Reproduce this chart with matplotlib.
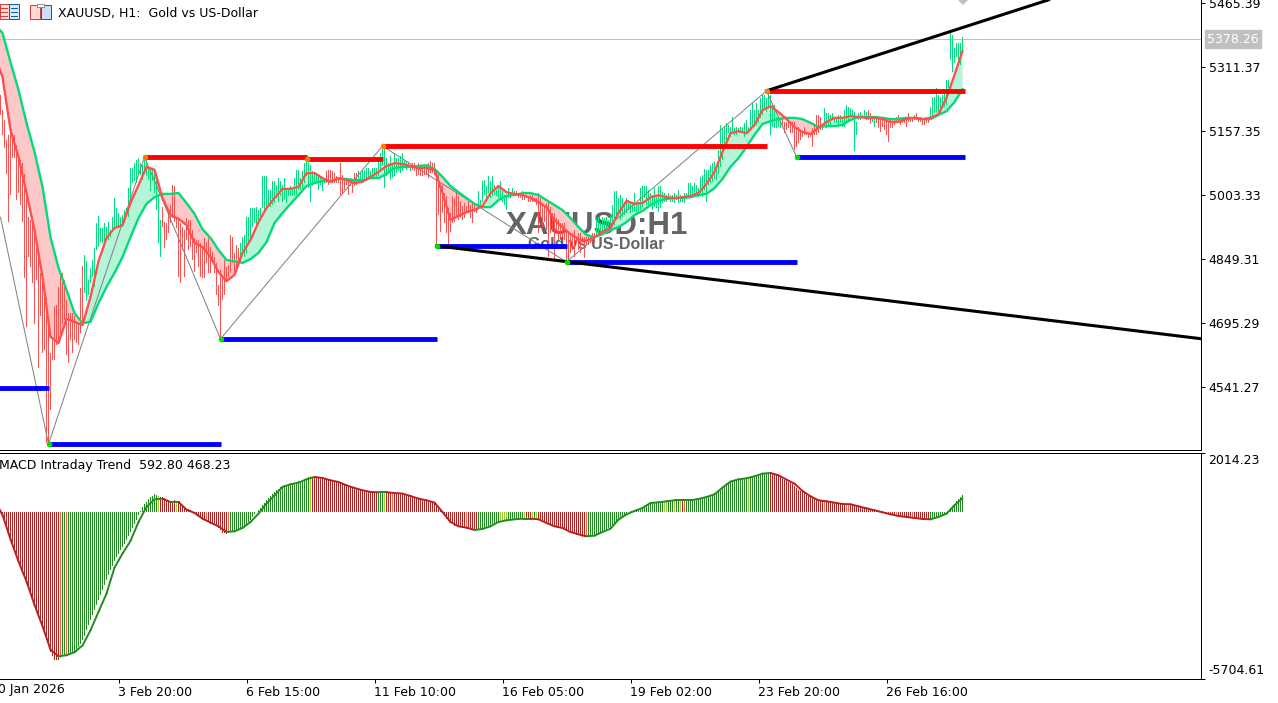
import numpy as np
import matplotlib
matplotlib.use("Agg")
import matplotlib.pyplot as plt
from matplotlib.patches import Rectangle
from matplotlib.transforms import blended_transform_factory

# H1 bars, one per 2 px on the chart
bar_high = [
    5244,5208,5184,5136,5148,5152,5148,5148,5124,5096,5088,5080,5055,5015,4951,4943,4935,4919,4879,4863,
    4815,4799,4775,4759,4702,4622,4662,4735,4739,4783,4819,4815,4799,4751,4719,4719,4719,4711,4699,4694,
    4779,4832,4859,4845,4799,4827,4847,4875,4935,4953,4923,4923,4935,4927,4939,4919,4951,4995,4971,4959,
    4951,4955,4967,4971,5019,
    5068,5068,5080,5088,5092,5080,5076,5100,5088,5068,5068,5064,5064,5048,5000,4943,4975,4939,4935,4967,
    4980,5028,5024,4951,4943,4935,4927,4919,4947,4943,4943,4919,4899,4895,4895,4887,4879,4899,4891,4899,
    4879,4867,4855,4839,4787,4823,4807,4847,4831,4835,4907,4903,4863,4883,4875,4887,4903,4907,4951,4951,
    4971,4971,4971,4975,4967,4971,5048,5048,5048,5016,5016,5036,5036,5028,5044,5036,5028,5044,5016,5016,
    5024,5020,5044,5064,5064,5044,5060,5080,5096,5096,5076,5060,5056,5056,5048,5044,5040,5040,5060,5064,
    5064,5060,5056,5048,5044,5080,5052,5044,5044,5040,5044,5036,5056,5056,5060,5056,5064,5064,5068,5068,
    5060,5068,5068,5068,5088,5104,5116,5116,5092,5080,
    5096,5080,5104,5092,5092,5096,5104,5088,5084,5080,5076,5080,5080,5076,5080,5068,5076,5072,5072,5080,
    5084,5080,5080,5064,5056,5028,5028,5008,5000,4972,4960,5000,4996,5012,5000,4988,4976,4984,4976,4988,
    4980,4984,4980,4972,5012,4992,5036,5040,5024,5048,5036,5048,5028,5016,5028,5036,5012,5003,5003,5020,
    5008,5020,5012,5012,5008,5008,5012,5003,5003,5000,5003,5003,4996,4996,5008,4996,4980,4980,4984,4987,
    4975,4960,4960,4947,4943,4935,4935,4935,4915,4915,4911,4911,4919,4903,4911,4911,4903,4903,4903,4903,
    4907,4911,4911,4947,4951,4935,4951,4947,4951,4943,4955,4980,5012,5012,4996,5003,4996,4987,4996,4992,
    4987,4987,5008,4980,4987,
    5020,5024,5024,5024,5015,5007,5003,5020,4999,5024,5024,5011,5007,5003,5007,5003,5003,5007,5003,5015,
    5003,4999,5007,5007,5031,5031,5024,5031,5027,5020,5047,5051,5067,5063,5063,5076,5080,5084,5063,5112,
    5172,5164,5168,5176,5172,5168,5192,5164,5168,5164,5168,5168,5176,5184,5168,5208,5224,5208,5224,5208,
    5236,5244,5244,5236,5248,5244,5220,5220,5192,5192,5188,5188,5180,5180,5184,5176,5180,5180,5168,5168,
    5160,5156,5168,5156,5152,5152,5164,5172,5196,5196,5192,5172,5212,5200,5200,5196,5200,5192,5192,5196,
    5196,5192,5208,5220,5216,5212,5208,5204,5180,5200,5204,5196,5208,5204,5208,5200,5192,5192,5192,5192,
    5184,5184,5188,5184,5180,5188,5180,5184,5192,5196,5192,5188,5192,5188,5200,5192,5192,5196,5200,5192,
    5192,5188,5188,5188,5192,5216,5240,5240,5260,5244,5240,5244,5252,5280,5280,5392,5388,5356,5368,5368,
    5368,5384,
]
bar_low = [
    5196,5148,5116,5055,4939,5003,5092,5092,4991,5007,4979,4939,4803,4686,4855,4831,4791,4694,4799,4586,
    4711,4622,4630,4406,4404,4486,4606,4606,4642,4650,4662,4694,4702,4618,4598,4654,4622,4654,4646,4642,
    4670,4699,4767,4747,4763,4791,4807,4783,4871,4879,4891,4887,4879,4895,4895,4903,4919,4927,4923,4923,
    4927,4927,4935,4951,4951,
    4987,5032,5036,5032,5056,5052,5040,5064,5048,5040,5012,5036,5008,4968,4887,4855,4927,4875,4895,4911,
    4935,4947,4939,4923,4807,4791,4871,4807,4895,4871,4879,4847,4819,4863,4831,4807,4803,4803,4839,4815,
    4815,4839,4815,4763,4735,4656,4751,4763,4799,4807,4815,4839,4815,4819,4831,4839,4863,4855,4863,4887,
    4895,4927,4935,4923,4935,4943,4971,4959,4971,4975,4975,4980,4984,4996,4987,5000,4987,4992,4984,5000,
    5000,5000,5000,5004,5016,5016,5016,5032,5048,5020,4987,5024,5032,5032,5016,5028,5012,5032,5032,5028,
    5040,5032,5032,5032,5032,5004,5008,5016,5028,5004,5024,5008,5024,5028,5040,5032,5036,5040,5036,5044,
    5044,5044,5044,5044,5048,5060,5072,5020,5048,5056,
    5040,5044,5048,5056,5060,5056,5060,5068,5064,5068,5060,5064,5060,5048,5052,5048,5048,5052,5052,5044,
    5056,5056,5052,4881,4955,4915,4960,4935,4911,4883,4915,4935,4939,4951,4943,4947,4943,4947,4960,4960,
    4947,4935,4963,4960,4980,4975,4987,5003,4992,5008,4996,5000,5003,5000,4996,4996,4987,4980,4967,4996,
    4996,5000,5003,5000,4996,4996,4992,4992,4996,4987,4987,4987,4987,4980,4911,4951,4927,4939,4919,4855,
    4911,4919,4847,4911,4895,4895,4903,4895,4847,4847,4863,4871,4855,4887,4871,4863,4887,4851,4883,4883,
    4887,4895,4887,4903,4903,4911,4911,4919,4919,4919,4923,4927,4931,4947,4960,4943,4951,4955,4960,4967,
    4960,4963,4963,4955,4963,
    4967,4975,4995,4979,4975,4979,4967,4975,4971,4963,4971,4983,4987,4987,4991,4987,4987,4983,4991,4983,
    4987,4987,4983,4995,4999,4995,4999,4999,5003,4999,5007,4999,5015,4987,5027,5031,5035,5043,5039,5055,
    5071,5088,5116,5128,5152,5144,5152,5148,5148,5152,5152,5152,5144,5152,5152,5160,5168,5168,5172,5176,
    5188,5196,5212,5204,5212,5148,5168,5164,5164,5168,5164,5168,5152,5160,5164,5152,5152,5112,5120,5128,
    5136,5144,5148,5148,5140,5144,5120,5148,5148,5152,5160,5160,5168,5164,5168,5172,5184,5176,5176,5172,
    5176,5168,5168,5180,5184,5192,5192,5108,5148,5184,5184,5188,5192,5184,5184,5176,5180,5168,5176,5164,
    5156,5168,5160,5148,5132,5164,5164,5172,5176,5180,5172,5176,5176,5168,5180,5180,5180,5184,5184,5180,
    5180,5172,5172,5176,5176,5192,5192,5200,5200,5204,5200,5212,5216,5220,5260,5328,5300,5320,5336,5316,
    5316,5344,
]
bar_red_runs = [(0, 41), (81, 119), (163, 178), (206, 238), (258, 297),
                (391, 410), (434, 435), (438, 464)]

# moving averages, read every 4 bars
line_idx = list(range(-3, 482, 4))
fast_ma = [
    5340,5287,5160,5095,5008,4919,4806,4662,4647,4705,4698,4690,4758,4844,4900,4924,4931,4984,
    5027,5071,5064,4996,4955,4946,4931,4888,4878,4854,4818,4796,4811,4864,4895,4938,4972,4996,
    5018,5018,5023,5056,5056,5044,5035,5044,5039,5032,5035,5047,5059,5073,
    5080,5078,5073,5068,5068,5064,5008,4943,4953,4962,4967,4977,5008,5025,5010,5006,5003,4996,
    4986,4974,4943,4926,4909,4897,4893,4902,4914,4924,4960,4989,4982,
    4984,4998,5003,4998,4996,4998,5001,5008,5030,5059,5107,5152,5157,5152,5172,5208,5217,5203,
    5186,5167,5155,5150,5165,5179,5189,5189,5193,5191,5189,5189,5186,5179,5179,5186,5189,5186,
    5189,5198,5237,5292,5350,
]
slow_ma = [
    5415,5393,5323,5256,5177,5107,5023,4902,4828,4775,4719,4695,4698,4743,4782,4816,4854,4902,
    4948,4982,4998,5006,5006,5008,4984,4958,4921,4900,4871,4847,4844,4840,4849,4864,4890,4936,
    4960,4982,5003,5025,5032,5037,5037,5042,5042,5039,5039,5044,5044,5054,
    5068,5071,5071,5073,5075,5066,5047,5025,5010,4996,4982,4974,4974,4991,5001,5003,5008,5008,
    5003,4991,4979,4967,4948,4926,4907,4902,4909,4919,4926,4938,4955,
    4965,4979,4989,4994,4996,4996,4998,5003,5006,5020,5042,5071,5092,5119,5148,5174,5181,5186,
    5189,5189,5186,5177,5167,5169,5169,5172,5184,5191,5191,5191,5189,5186,5186,5189,5189,5186,
    5186,5196,5205,5227,5258,
]

# zigzag pivots and the levels/trend lines drawn from them
zig_idx = [0, 24, 72, 110, 191, 283, 383, 398]
zig_price = [4950, 4404, 5095, 4657, 5121, 4842, 5254, 5095]
high_pivots = [(72, 5095), (153, 5090), (191, 5121), (383, 5254)]
low_pivots = [(24, 4404), (110, 4657), (218, 4881), (283, 4842), (398, 5095)]
red_levels = [(72, 153, 5095), (153, 191, 5090), (191, 383, 5121), (383, 482, 5254)]
blue_levels = [(-2, 24, 4539), (24, 110, 4404), (110, 218, 4657), (218, 283, 4881),
               (283, 398, 4842), (398, 482, 5095)]
trend_up = ([383, 524], [5254, 5473])
trend_down = ([218, 601], [4881, 4657])

last_price = 5378.26
price_ticks = [5465.39, 5311.37, 5157.35, 5003.33, 4849.31, 4695.29, 4541.27]

# MACD pane
macd_hist = [
    30,-114,-340,-569,-760,-945,-1130,-1309,-1510,-1707,-1880,-2048,-2220,-2390,-2590,-2788,-2990,-3186,-3370,-3551,
    -3740,-3926,-4130,-4324,-4550,-4780,-4910,-5041,-5060,-5041,-4980,-4927,-4910,-4893,-4880,-4859,-4840,-4813,-4720,-4609,
    -4500,-4381,-4220,-4040,-3870,-3698,-3530,-3357,-3190,-3016,-2850,-2674,-2500,-2333,-2160,-1991,-1830,-1673,-1550,-1422,
    -1310,-1195,-1080,-967,-830,-683,-540,-398,-260,-114,30,171,260,341,430,512,560,603,570,535,
    520,512,470,421,390,364,380,398,350,307,250,193,150,114,85,57,25,-11,-60,-114,
    -170,-228,-270,-307,-325,-341,-380,-421,-480,-535,-620,-717,-730,-740,-710,-683,-670,-660,-630,-603,
    -560,-512,-470,-421,-340,-262,-160,-57,10,80,150,228,310,398,470,535,610,683,740,797,
    840,888,910,933,950,967,980,990,1020,1047,1065,1081,1110,1138,1180,1218,1205,1195,1195,1195,
    1180,1161,1150,1138,1110,1081,1070,1058,1045,1036,1015,990,955,922,900,876,850,819,795,774,
    755,740,730,717,700,683,670,660,670,683,683,683,677,671,665,660,655,649,649,649,
    649,649,615,580,565,546,530,512,480,444,420,398,387,376,370,364,335,307,210,114,
    45,-23,-125,-228,-300,-376,-420,-467,-490,-512,-530,-546,-546,-546,-565,-580,-605,-626,-615,-603,
    -590,-580,-560,-535,-495,-455,-415,-376,-340,-307,-295,-285,-280,-273,-267,-262,-250,-239,-233,-228,
    -215,-205,-228,-250,-240,-228,-228,-228,-240,-250,-280,-307,-340,-376,-405,-432,-460,-489,-505,-523,
    -530,-535,-570,-603,-630,-660,-700,-740,-770,-797,-820,-842,-848,-853,-840,-831,-815,-797,-755,-717,
    -690,-660,-630,-603,-560,-512,-445,-376,-320,-262,-205,-148,-100,-57,-15,23,50,80,90,102,
    125,148,190,228,255,284,295,307,318,330,347,364,364,364,364,364,380,398,398,398,
    387,376,387,398,398,398,415,432,443,455,466,478,495,512,540,569,597,626,670,717,
    785,853,925,1001,1030,1058,1080,1104,1110,1115,1125,1138,1143,1149,1155,1161,1190,1218,1235,1252,
    1280,1309,1320,1331,1331,1331,1310,1286,1250,1218,1180,1138,1100,1058,1025,990,940,888,825,762,
    720,683,640,592,550,512,470,432,415,398,380,364,364,364,352,341,330,319,300,284,
    278,273,273,273,267,262,235,205,188,171,160,148,136,125,113,102,80,57,40,23,
    6,-11,-35,-57,-80,-102,-120,-137,-137,-137,-148,-159,-170,-182,-188,-193,-193,-193,-205,-216,
    -233,-250,-262,-273,-262,-250,-233,-216,-200,-182,-165,-148,-100,-57,30,114,200,284,360,432,
    510,592.80,
]
macd_signal = [
    400,-100,-930,-1690,-2370,-3170,-3900,-4700,-4930,-4893,-4790,-4560,-4040,-3410,-2790,-1900,-1422,-990,-341,171,
    432,455,341,341,80,-34,-228,-364,-489,-683,-660,-546,-341,-57,284,569,853,945,1001,1115,
    1195,1161,1081,1024,910,819,740,683,671,671,649,626,546,455,398,319,0,-341,-489,-535,
    -615,-580,-489,-341,-285,-250,-228,-228,-250,-376,-489,-546,-683,-762,-831,-808,-683,-569,-262,-80,
    34,137,307,330,364,398,398,398,444,512,603,831,1036,1115,1149,1218,1309,1331,1252,1104,
    967,717,535,398,364,319,273,262,193,125,57,-11,-80,-137,-171,-205,-239,-250,-171,-57,
    228,468.23,
]
macd_red_runs = [(0, 30), (33, 33), (80, 114), (156, 188), (193, 238), (263, 265),
                 (269, 293), (341, 342), (385, 464)]
macd_lime = [79, 88, 155, 192, 250, 251, 252, 253, 262, 266, 268, 332, 333, 337, 340, 374]
macd_tomato = [30, 33, 103, 114, 196, 233, 293, 342, 412, 423, 424, 448, 456]
macd_ticks = [2014.23, -5704.61]

time_idx = [59, 123, 187, 251, 315, 379, 443]
time_labels = ["3 Feb 20:00", "6 Feb 15:00", "11 Feb 10:00", "16 Feb 05:00",
               "19 Feb 02:00", "23 Feb 20:00", "26 Feb 16:00"]

assert len(bar_high) == 482 and len(bar_low) == 482, (len(bar_high), len(bar_low))
assert len(macd_hist) == 482, len(macd_hist)
assert len(fast_ma) == 122 and len(slow_ma) == 122 and len(macd_signal) == 122, (
    len(fast_ma), len(slow_ma), len(macd_signal))

PX = 0.72  # one pixel in points at dpi 100
GREEN = "#00DC78"
RED = "#FF5050"
plt.rcParams["font.family"] = "DejaVu Sans"
plt.rcParams["font.size"] = 9

fig = plt.figure(figsize=(12.78, 7.03), dpi=100)
W, H = 1278, 703
ax = fig.add_axes([0, (H - 450) / H, 1201 / W, 450 / H])
ax2 = fig.add_axes([0, (H - 679) / H, 1201 / W, 226 / H])

bar_x = np.arange(482)


def in_runs(i, runs):
    return any(a <= i <= b for a, b in runs)


# price pane
ax.text(298, 4929, "XAUUSD:H1", color="#646464", family="Liberation Sans", weight="bold",
        fontsize=22.5, ha="center", va="center", zorder=0.5)
ax.text(298, 4885, "Gold vs US-Dollar", color="#646464", family="Liberation Sans", weight="bold",
        fontsize=11.5, ha="center", va="center", zorder=0.5)

fast = np.array(fast_ma, dtype=float)
slow = np.array(slow_ma, dtype=float)
ax.fill_between(line_idx, fast, slow, where=fast >= slow, interpolate=True, color="#B4F5D8", lw=0, zorder=1)
ax.fill_between(line_idx, fast, slow, where=fast <= slow, interpolate=True, color="#FFC8C8", lw=0, zorder=1)

bar_colors = [RED if in_runs(i, bar_red_runs) else "#00E07A" for i in bar_x]
# one px wide: 0.5 bar index on this scale
ax.bar(bar_x, np.array(bar_high) - np.array(bar_low), width=0.5, bottom=bar_low, color=bar_colors,
       linewidth=0, antialiased=False, zorder=2)
ax.plot(zig_idx, zig_price, color="#808080", lw=PX, zorder=2.5)
ax.plot(line_idx, slow_ma, color=GREEN, lw=1.7, zorder=3)
ax.plot(line_idx, fast_ma, color=RED, lw=1.7, zorder=4)

ax.axhline(last_price, color="#C0C0C0", lw=PX, zorder=1.5)
for a, b, level in red_levels:
    ax.plot([a, b], [level, level], color="#FF0000", lw=3.5, solid_capstyle="butt", zorder=5)
for a, b, level in blue_levels:
    ax.plot([a, b], [level, level], color="#0000FF", lw=3.5, solid_capstyle="butt", zorder=5)
ax.plot(*trend_up, color="black", lw=2.2, zorder=6)
ax.plot(*trend_down, color="black", lw=2.2, zorder=6)
ax.plot(*zip(*high_pivots), ls="", marker="o", ms=4, color="#FF8000", mew=0, zorder=7)
ax.plot(*zip(*low_pivots), ls="", marker="o", ms=4, color="#00E000", mew=0, zorder=7)
ax.plot([481], [5472.6], ls="", marker="D", ms=5, color="#C0C0C0", mew=0, zorder=7)

ax.set_xlim(-0.25, 600.25)
ax.set_ylim(4389.6, 5472.6)
ax.set_xticks([])
ax.yaxis.tick_right()
ax.set_yticks(price_ticks)
ax.set_yticklabels([f"{v:.2f}" for v in price_ticks])
ax.tick_params(axis="y", length=2.9, width=PX, pad=2.5)

# last price tag next to the scale
tag_tr = blended_transform_factory(ax.transAxes, ax.transData)
ax.text(1207 / 1201, last_price, f"{last_price:.2f}", color="white", transform=tag_tr, va="center",
        ha="left", clip_on=False, zorder=8,
        bbox=dict(facecolor="#C0C0C0", edgecolor="#C0C0C0", pad=1.6))

# MACD pane
hist_colors = []
for i in bar_x:
    if i in macd_lime:
        hist_colors.append("#9ACD32")
    elif i in macd_tomato:
        hist_colors.append("#FF6347")
    elif in_runs(i, macd_red_runs):
        hist_colors.append("#B22222")
    else:
        hist_colors.append("#228B22")
ax2.bar(bar_x, macd_hist, width=0.5, color=hist_colors, linewidth=0, antialiased=False, zorder=2)
for k in range(len(line_idx) - 1):
    seg_color = "#228B22" if macd_signal[k + 1] >= macd_signal[k] else "#B22222"
    ax2.plot(line_idx[k:k + 2], macd_signal[k:k + 2], color=seg_color, lw=1.4,
             solid_capstyle="round", zorder=3)

ax2.set_xlim(-0.25, 600.25)
ax2.set_ylim(-5704.61, 2014.23)
ax2.yaxis.tick_right()
ax2.set_yticks(macd_ticks)
ax2.set_yticklabels([])
ax2.tick_params(axis="y", length=2.9, width=PX)
ax2.text(1208 / 1201, (679 - 461) / 226, f"{macd_ticks[0]:.2f}", transform=ax2.transAxes,
         va="center", ha="left", clip_on=False)
ax2.text(1208 / 1201, (679 - 671) / 226, f"{macd_ticks[1]:.2f}", transform=ax2.transAxes,
         va="center", ha="left", clip_on=False)
ax2.set_xticks(time_idx)
ax2.set_xticklabels(time_labels, ha="left")
ax2.tick_params(axis="x", length=2.9, width=PX, pad=2)
ax2.text(-5, -0.016, "30 Jan 2026", transform=ax2.get_xaxis_transform(), va="top", ha="left", clip_on=False)
ax2.text(-1 / 1201, 1 - 12 / 226, "MACD Intraday Trend  592.80 468.23", transform=ax2.transAxes,
         va="center", ha="left", clip_on=False)

for a in (ax, ax2):
    for side in ("top", "left"):
        a.spines[side].set_visible(False)
    for side in ("right", "bottom"):
        a.spines[side].set_linewidth(PX)
ax2.spines["top"].set_visible(True)
ax2.spines["top"].set_linewidth(PX)

# header with the two small toolbar icons
fig.text(58 / W, 1 - 13 / H, "XAUUSD, H1:  Gold vs US-Dollar", va="center", ha="left")


def px_rect(x, y, w, h, face, edge="none"):
    fig.add_artist(Rectangle((x / W, 1 - (y + h) / H), w / W, h / H, transform=fig.transFigure,
                             facecolor=face, edgecolor=edge, linewidth=PX, zorder=10))


px_rect(0, 4, 9, 15, "#FFD8D0", "#D04040")
px_rect(9, 4, 10, 15, "#D8E8F8", "#1060A0")
for y in (8, 12, 16):
    px_rect(0, y, 8, 1, "#D04040")
    px_rect(11, y, 7, 1, "#1060A0")
px_rect(30, 5, 10, 14, "#FFD8D0", "#D04040")
px_rect(41, 5, 10, 14, "#C8E0F8", "#1060A0")
px_rect(37, 4, 7, 3, "#FFFFFF", "#909090")

fig.savefig("out.png", dpi=100)
